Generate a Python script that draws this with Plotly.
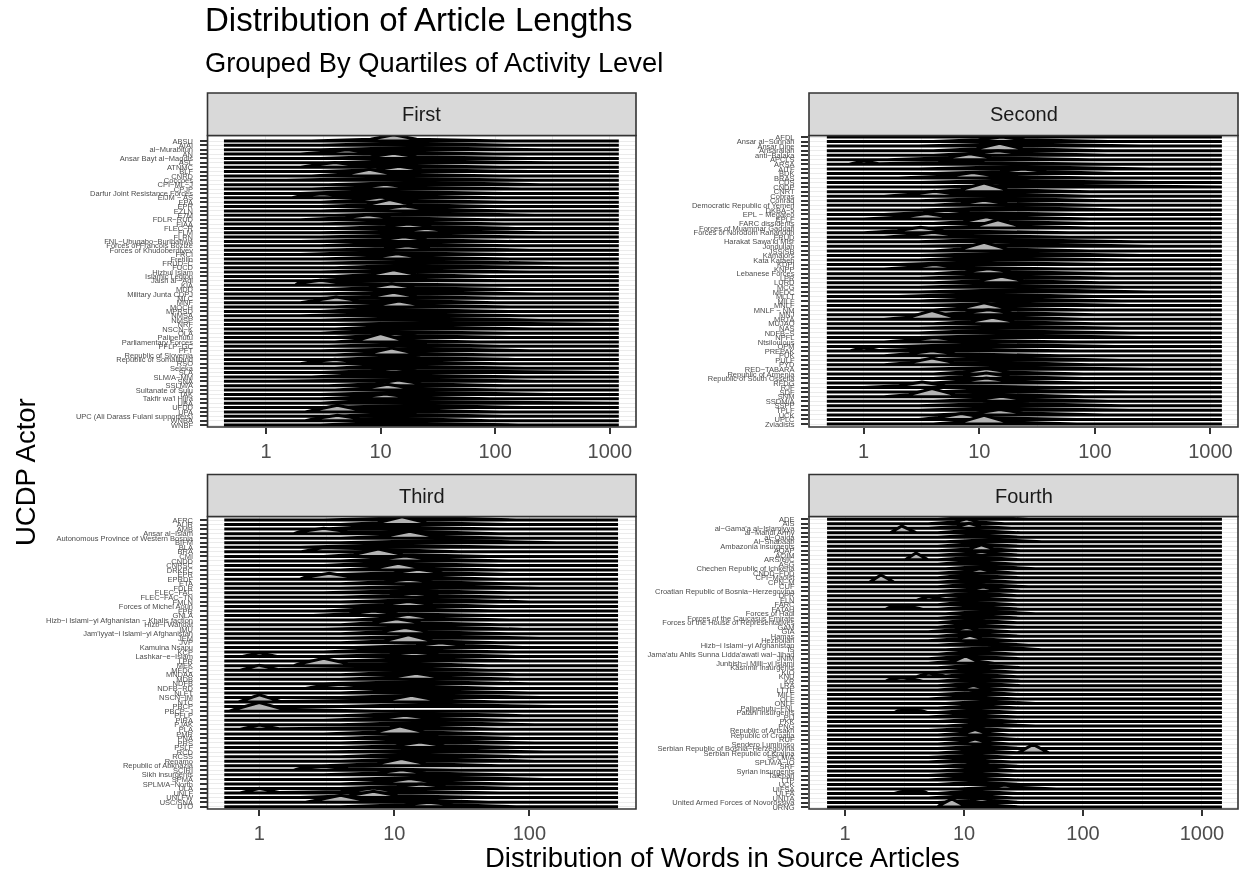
import numpy as np
import plotly.graph_objects as go

first_actors = ["ABSU","AIAI","al-Murabitun","AN","Ansar Bayt al-Maqdis","ASL","ATNMC","BLF","CNRD","Coccoes",
"CPI-ML-J","CPJP","Darfur Joint Resistance Forces","EIJM - AS","EPA","EPR","EZLN","E7M","FDLR-RUD","FIAA",
"FLEC-R","FLM","FLRN","FNL-Ubugabo-Burihabwa","Forces of Francois Bozize","Forces of Khudoberdiyev","FRCI","Fretilin","FRUD-C","FUCD",
"Hizbul Islam","Islamic Legion","Jaish al-'Adl","KIA","MDD","Military Junta CDPJ","MLC","MNF","MOCH","MPRSD",
"NMSA","NMSP","NRF","NSCN-K","OLA","Palipehutu","Parliamentary Forces","PFLP-GC","PFT","Republic of Slovenia",
"Republic of Somaliland","RSO","Seleka","SLA","SLM/A-MM","SNA","SSLM/A","Sultanate of Sulu","TAK","Takfir wa'l Hijra",
"UBA","UFDD","UPA","UPC (Ali Darass Fulani supporters)","WNBA","WNBF"]
first_peak = [13,16,20,5.1,13,18,4,14.5,8,12,
22,11,9,3.1,10,12,16,25,7.8,14,
17.5,25,20,16,12,17,9,14,22,18,
16,13,8,3,12.5,20,13,4.1,14.5,10,
12,18,30,15,9,13,10,16,22,12.5,
14,3.9,12,13,9,20,14.3,11.5,18,11,
9,22,4.2,13,4.2,11]
first_height = [1.4,.6,.55,1.0,1.2,.6,1.1,1.2,1.5,.6,
.6,1.1,.6,.95,1.2,1.6,1.1,.65,1.1,.6,
1.0,1.0,.6,1.1,.6,1.0,.6,1.2,.6,.6,
.65,1.55,.6,1.1,1.3,.6,1.4,1.3,1.4,.6,
.6,.6,.55,.6,.6,.9,1.9,.7,.6,1.6,
.7,1.1,.7,.9,.6,.6,1.3,1.3,.6,1.1,
.6,.6,1.5,.7,1.2,.6]
first_low = [2.5,3,3,2,3,4,2,3,2.5,1.5,
3.5,2.5,2,1.7,3,3,3,4,2,3,
4,3,3,2,3,3,2,3,3,4,
3,4,2.5,1.8,3.5,3,3,2,4,3,
2,3,4,4,3,4,4,3.5,3,4,
4,2,4,3,2.5,1.2,3.5,4,3,3,
3,3,2.2,4,2.2,3]
first_high = [120,150,260,100,200,300,90,200,110,180,
250,170,120,100,130,100,130,220,90,120,
150,260,200,150,160,200,130,140,300,400,
200,90,120,90,150,230,110,70,140,130,
170,250,500,220,130,150,70,110,200,100,
150,90,180,600,180,230,120,110,300,90,
400,180,55,120,50,160]
first_extra_row = [3,6,13,37,51,62,64]
first_extra_words = [12,13,12,14,13,13,12]
first_extra_height = [.6,.6,.6,.6,.6,.6,.6]
first_extra_low = [4,4,4,4,4,4,4]
first_extra_high = [120,110,100,100,110,110,90]

second_actors = ["AFDL","Ansar al-Sunnah","Ansar Dine","Ansaraliah","anti-Balaka","APCLS","ARSA","AITF","BDK","BRAS",
"CDS","CNDP","CNRT","Cobras","Conraq","Democratic Republic of Yemen","DKBA-5","EPL - Megateo","EPLF","FARC dissidents",
"Forces of Muammar Gaddafi","Forces of Norodom Ranariddh","FRUD","Harakat Sawa'id Misr","Jondullah","JSS/SB","Kamajors","Kata Kataeb","KDPI","KNPP",
"Lebanese Forces","LPR","LURD","MCG","MFDC","MLLT","MILF","MNLF","MNLF - NM","MNJ",
"MRTA","MUJAO","NAS","NDFB-S","NPFL","Ntsiloulous","OPM","PREPAK","PUK","PULF",
"PYD","RED-TABARA","Republic of Armenia","Republic of South Ossetia","RFDG","RJF","SDF","SNM","SSDM/A","SSPP",
"TPLF","UCK","UPLC","Zviadists"]
second_peak = [18,15.6,20,15,14.5,8.3,7,22,24,8.8,
18,30,11,4.1,16,11,20,5.2,3.5,11.5,
14.5,3.1,4,14,30,11,20,12,9,4.1,
12,14,15.6,14,25,10,13,20,11,12,3.9,
13,17,12,22,4.1,10,6,3.9,14,3.9,
20,11.5,11.5,11.5,3.2,14,3.9,15.6,17,14,
15,7,11]
second_height = [.6,1.0,.6,1.6,1.0,1.3,.7,.6,1.0,1.2,
.6,.55,1.9,1.1,.6,1.1,.6,.9,1.2,1.5,
1.8,1.2,1.1,.6,.55,1.9,.6,.6,.6,1.0,
1.1,.6,1.4,.6,.6,.6,.65,.6,1.6,1.1,1.9,
1.4,.6,.6,.6,1.0,.6,.7,1.1,.7,1.5,
.6,1.2,1.2,1.1,1.2,.6,1.8,1.1,.7,.6,
1.2,1.3,1.9]
second_low = [3,4,3,4,4,1.6,.8,3,4,2,
3,4,4,1.5,3,4,3,1.5,1,4,
4,1,1.5,3,3,4,3,3,2,1.5,
4,3,4,3,3,2,3,3,4,4,1.5,
4,3,3,3,1.5,2,.8,1.5,3,1.5,
3,4,4,4,1,4,1.5,4,3,3,
4,3,4]
second_high = [150,130,250,120,130,90,120,300,150,100,
300,500,90,60,120,100,170,70,60,90,
90,60,60,220,300,90,250,200,130,60,
140,150,110,180,300,100,170,200,90,100,50,
100,170,200,250,60,150,70,50,170,50,
300,80,80,80,50,200,45,130,170,200,
120,70,70]
second_extra_row = [6,47,13,18,40,50,57]
second_extra_words = [1.0,1.0,13,12,13,14,12]
second_extra_height = [.8,.8,.6,.6,.6,.6,.6]
second_extra_low = [.75,.75,5,5,5,5,5]
second_extra_high = [1.35,1.35,90,90,80,90,80]

third_actors = ["AFRC","ALiR","AMB","Ansar al-Islam","Autonomous Province of Western Bosnia","BIFM","BLA","BRA","CMI","CNDD",
"CNRSC","DRKPC","EPR","EPRDF","ETA","FDLR","FLEC-FAC","FLEC-FAC-TN","FMLN","Forces of Michel Aoun",
"FPR","GNLA","Hizb-i Islami-yi Afghanistan - Khalis faction","Hizb-i Wahdat","IMU","Jam'iyyat-i Islami-yi Afghanistan","JEM","JVP","Kamuina Nsapu","KCP",
"Lashkar-e-Islam","LPR","MEK","MFDC","MNDAA","MDB","NDFB","NDFB-RD","NLFT","NSCN-IM",
"NTC","PBCP","PBCP-J","PFLP","PIRA","PJAK","PLA","PMR","PNA","PRS",
"PSLF","RCD","RCSS","Renamo","Republic of Abkhazia","SCIRI","Sikh insurgents","SPMA","SPLM/A-North","ULA",
"UNLF","UNLFW","USC/SNA","UTO"]
third_peak = [16,11.4,8,3,13,25,9,3,7.6,12,
9,10.7,15,3.3,12.7,22,14,14,18,12.7,
9,7,12.7,10.4,16,12,20,12.7,22,10,
14,15,3,11,13,14.5,16,4,13,18,
13.4,20,1,15,12,18,14,11,14,17,
15.5,22,14,16,11.3,3,11.3,20,13,15.8,
9,7,4,18]
third_height = [.6,1.7,.6,1.2,1.5,.55,.6,.95,1.6,1.1,
.6,1.5,1.2,1.3,1.0,.6,.7,.9,.6,1.1,
.6,1.0,1.3,1.3,.7,1.4,.6,1.8,1.0,.6,
.95,.7,1.6,.6,.6,1.3,.6,.9,.7,.6,
1.5,.55,1.9,.6,1.1,.6,.7,1.7,.7,.6,
1.2,.6,.6,.6,1.6,.9,1.1,.55,1.2,1.0,
.6,1.4,1.5,1.0]
third_low = [3,4,3,1.8,4,4,2,2,3,4,
3,4,4,2,4,4,3,4,4,4,
3,2.5,5,4,3,4,4,4,5,3,
3,4,1.8,.7,4,4,3,2.2,4,4,
.8,4,.6,4,3,4,.7,3,4,4,
4,3,4,4,3,1.8,3,4,4,4,
.7,2,2.2,4]
third_high = [80,70,60,50,70,160,80,30,50,70,
60,60,80,30,70,120,70,80,100,60,
60,50,80,60,90,70,120,60,90,70,
80,90,25,50,80,80,100,30,100,120,
60,150,8,90,70,110,60,60,80,110,
80,130,90,110,60,30,70,130,70,90,
60,50,25,80]
third_extra_row = [33,40,46,60,60,30,3,13,32,37,62]
third_extra_words = [1.0,1.0,1.0,1.0,7,1.0,12,13,12,13,12]
third_extra_height = [1.1,1.6,.95,1.05,1.1,.8,.6,.6,.6,.6,.6]
third_extra_low = [.72,.7,.72,.72,4,.75,5,5,5,5,5]
third_extra_high = [1.4,1.45,1.4,1.4,12,1.35,60,60,50,60,50]

fourth_actors = ["ADE","AIS","al-Gama'a al-Islamiyya","al-Mahdi Army","al-Qaida","Al-Shabaab","Ambazonia insurgents","AQAP","AQIM","ARS/UIC",
"ASG","Chechen Republic of Ichkeria","CNDD-FDD","CPI-Maoist","CPN-M","CUF","Croatian Republic of Bosnia-Herzegovina","DPR","ELN","FARC",
"FATAH","Forces of Hadi","Forces of the Caucasus Emirate","Forces of the House of Representatives","GAM","GIA","Hamas","Hezbollah","Hizb-i Islami-yi Afghanistan","IS",
"Jama'atu Ahlis Sunna Lidda'awati wal-Jihad","JNIM","Junbish-i Milli-yi Islami","Kashmir insurgents","KIO","KNU","KR","LRA","LTTE","MILF",
"OLF","ONLF","Palipehutu-FNL","Patani insurgents","PIJ","PKK","PNG","Republic of Artsakh","Republic of Croatia","RUF",
"Sendero Luminoso","Serbian Republic of Bosnia-Herzegovina","Serbian Republic of Krajina","SPLM/A","SPLM/A-IO","SRF","Syrian insurgents","Taleban","TTP","UCK",
"UIFSA","ULFA","UNITA","United Armed Forces of Novorossiya","URNG"]
fourth_peak = [14,10.5,11,3,13,18,12,14,14,3.95,
12,16,13.6,11,2,12,14.5,13,5,11,
3,16,13,12,11,10.5,12,11.2,14,20,
12,11,10.3,13,12,5,3,13,12,14,
11,16,13,3.5,11,13,15,12,12.4,13,
12.4,14,38,12,11,13,14,12,11,13,
22,3.7,12,14,7.9]
fourth_height = [.6,1.1,1.1,1.5,.6,.6,.6,1.3,.9,1.5,
.65,.6,1.0,.6,1.6,.6,.95,.65,.8,.6,
.7,.6,.7,.65,.6,.9,.7,1.2,.6,.6,
.7,.6,1.6,.65,.7,.8,.8,.6,1.0,.65,
.6,.6,.7,.6,.6,.6,.7,.7,1.2,.6,
1.1,.6,1.9,.6,.6,.7,.6,.6,.7,.6,
.9,.7,.6,.9,1.8]
fourth_low = [6,5,5,2.4,6,7,6,6,6,3.2,
6,7,6,6,1.6,6,6,6,4,6,
2.2,7,6,6,6,5,6,5,6,7,
6,5,5,6,6,4,2.2,6,6,6,
5,7,6,2.6,5,6,7,5,6,6,
6,6,28,5,5,6,6,5,5,6,
9,2.6,5,6,6]
fourth_high = [35,22,25,4,30,45,30,30,30,5,
28,40,28,30,2.6,35,30,28,7,28,
4.5,40,30,28,28,25,30,26,35,45,
28,30,18,30,28,7,4.5,30,26,30,
28,40,30,5,28,30,40,26,24,30,
24,30,52,26,25,30,28,26,30,30,
60,5,26,30,11]
fourth_extra_row = [3,9,14,18,20,35,36,43,52,61,64]
fourth_extra_words = [12,13,12,12,13,12,12,12,13,12,13]
fourth_extra_height = [.6,.6,.6,.6,.6,.6,.6,.6,.6,.6,.7]
fourth_extra_low = [6,6,6,6,6,6,6,6,6,6,6]
fourth_extra_high = [30,30,28,28,30,28,30,28,30,28,30]

PANEL_TITLES = ["First", "Second", "Third", "Fourth"]
W, H = 1240, 873

panels = [
    dict(name=PANEL_TITLES[0], actors=first_actors, peak=first_peak, h=first_height, low=first_low, high=first_high,
         ex=(first_extra_row, first_extra_words, first_extra_height, first_extra_low, first_extra_high),
         px=(207.5, 636), py=(135.5, 427), strip=(93, 135.5), xr=(-.51, 3.229), ends=(.43, 1200), first=141, last=425,
         w=.2, ticks=[1, 10, 100, 1000]),
    dict(name=PANEL_TITLES[1], actors=second_actors, peak=second_peak, h=second_height, low=second_low, high=second_high,
         ex=(second_extra_row, second_extra_words, second_extra_height, second_extra_low, second_extra_high),
         px=(809, 1238), py=(135.5, 427), strip=(93, 135.5), xr=(-.473, 3.238), ends=(.48, 1255), first=137, last=424,
         w=.2, ticks=[1, 10, 100, 1000]),
    dict(name=PANEL_TITLES[2], actors=third_actors, peak=third_peak, h=third_height, low=third_low, high=third_high,
         ex=(third_extra_row, third_extra_words, third_extra_height, third_extra_low, third_extra_high),
         px=(207.5, 636), py=(516.5, 809), strip=(474.5, 516.5), xr=(-.384, 2.79), ends=(.55, 454), first=520, last=806.7,
         w=.18, ticks=[1, 10, 100]),
    dict(name=PANEL_TITLES[3], actors=fourth_actors, peak=fourth_peak, h=fourth_height, low=fourth_low, high=fourth_high,
         ex=(fourth_extra_row, fourth_extra_words, fourth_extra_height, fourth_extra_low, fourth_extra_high),
         px=(809, 1238), py=(516.5, 809), strip=(474.5, 516.5), xr=(-.303, 3.303), ends=(.706, 1472), first=519.3, last=807,
         w=.1, ticks=[1, 10, 100, 1000]),
]

BODY = .42
def bump(low, peak, high, h, w):
    lo, pk, hi = np.log10(low), np.log10(peak), np.log10(high)
    if h <= BODY or lo >= pk - w or hi <= pk + w:
        return [lo, pk, hi], [0, h, 0]
    return [lo, pk - w, pk, pk + w, hi], [0, BODY, h, BODY, 0]

fig = go.Figure()
shapes, annotations = [], []
layout = {}
for k, p in enumerate(panels):
    n = len(p["actors"])
    assert all(len(p[a]) == n for a in ("peak", "h", "low", "high")), (p["name"], n, [len(p[a]) for a in ("peak", "h", "low", "high")])
    suffix = "" if k == 0 else str(k + 1)
    pitch = (p["last"] - p["first"]) / (n - 1)
    rng = [(p["py"][1] - p["first"]) / pitch, (p["py"][0] - p["first"]) / pitch]
    lo_end, hi_end = np.log10(p["ends"][0]), np.log10(p["ends"][1])
    for r in range(n):
        bumps = [bump(p["low"][r], p["peak"][r], p["high"][r], p["h"][r], p["w"])]
        for er, ew, eh, el, ei in zip(*p["ex"]):
            if er == r:
                bumps.append(bump(el, ew, ei, eh, p["w"]))
        grid = sorted(set(v for b in bumps for v in b[0]))
        ys = [max(np.interp(g, b[0], b[1], left=0, right=0) for b in bumps) for g in grid]
        xs = [lo_end] + grid + [hi_end, lo_end]
        yy = [0] + ys + [0, 0]
        fig.add_trace(go.Scatter(
            x=[10 ** v for v in xs], y=[r - v for v in yy], mode="lines", fill="toself",
            fillcolor="#b3b3b3", line=dict(color="black", width=3), hoverinfo="skip", showlegend=False,
            xaxis="x" + suffix, yaxis="y" + suffix))
    minors = [10 ** (e + .5) for e in range(-1, 4)]
    layout["xaxis" + suffix] = dict(
        type="log", range=list(p["xr"]), domain=[p["px"][0] / W, p["px"][1] / W], anchor="y" + suffix,
        tickmode="array", tickvals=p["ticks"], ticktext=[str(t) for t in p["ticks"]],
        ticks="outside", ticklen=6, tickwidth=1.6, tickcolor="#333333",
        tickfont=dict(family="Liberation Sans", size=20, color="#4d4d4d"),
        showgrid=True, gridcolor="#ebebeb", gridwidth=1, zeroline=False, showline=False,
        minor=dict(tickmode="array", tickvals=minors, showgrid=True, gridcolor="#ebebeb", gridwidth=.6, ticks=""),
    )
    layout["yaxis" + suffix] = dict(
        range=rng, domain=[1 - p["py"][1] / H, 1 - p["py"][0] / H], anchor="x" + suffix,
        tickmode="array", tickvals=list(range(n)), ticktext=[a.replace("-", "\u2212") for a in p["actors"]],
        ticks="outside", ticklen=7, tickwidth=1.6, tickcolor="#333333", ticklabelstandoff=5,
        tickfont=dict(family="Liberation Sans", size=7.5, color="#4d4d4d"),
        showgrid=True, gridcolor="#ebebeb", gridwidth=1, zeroline=False, showline=False, automargin=False,
    )
    x0, x1 = p["px"][0] / W, p["px"][1] / W
    shapes.append(dict(type="rect", xref="paper", yref="paper", x0=x0, x1=x1, y0=1 - p["py"][1] / H, y1=1 - p["py"][0] / H,
                       line=dict(color="#333333", width=1.6), fillcolor="rgba(0,0,0,0)", layer="above"))
    shapes.append(dict(type="rect", xref="paper", yref="paper", x0=x0, x1=x1, y0=1 - p["strip"][1] / H, y1=1 - p["strip"][0] / H,
                       line=dict(color="#333333", width=1.6), fillcolor="#d9d9d9", layer="above"))
    annotations.append(dict(text=p["name"], xref="paper", yref="paper", x=(x0 + x1) / 2, y=1 - sum(p["strip"]) / 2 / H,
                            showarrow=False, xanchor="center", yanchor="middle",
                            font=dict(family="Liberation Sans", size=20, color="#1a1a1a")))

def text(t, xpx, ypx, size, anchor="left", angle=0):
    annotations.append(dict(text=t, xref="paper", yref="paper", x=xpx / W, y=1 - ypx / H, showarrow=False,
                            xanchor=anchor, yanchor="middle", textangle=angle,
                            font=dict(family="Liberation Sans", size=size, color="black"),
                            borderpad=0, borderwidth=0))

text("Distribution of Article Lengths", 205, 19, 33)
text("Grouped By Quartiles of Activity Level", 205, 63, 27.3)
text("Distribution of Words in Source Articles", 722, 857.5, 27.5, "center")
text("UCDP Actor", 26, 472, 27.5, "center", -90)

fig.update_layout(width=W, height=H, margin=dict(l=0, r=0, t=0, b=0), autosize=False,
                  paper_bgcolor="white", plot_bgcolor="white", showlegend=False,
                  shapes=shapes, annotations=annotations, **layout)
fig.write_html("out.html", config={"displayModeBar": False},
               post_script="document.body.style.margin='0';"
                           "var s=document.createElement('style');s.textContent='.main-svg{will-change:transform}';document.head.appendChild(s);")
